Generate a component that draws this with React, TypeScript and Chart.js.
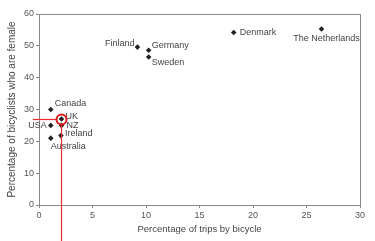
import React, { useEffect, useRef } from "react";
import { Chart, registerables } from "chart.js";

Chart.register(...registerables);

const countries = ["Canada", "UK", "USA", "NZ", "Ireland", "Australia", "Finland", "Germany", "Sweden", "Denmark", "The Netherlands"];
const tripsByBicycle = [1.1, 2.1, 1.1, 2.1, 2.05, 1.1, 9.2, 10.25, 10.25, 18.2, 26.4];
const femaleShare = [30, 27, 25, 25, 21.8, 21, 49.6, 48.6, 46.5, 54.2, 55.3];
const xTicks = [0, 5, 10, 15, 20, 25, 30];
const yTicks = [0, 10, 20, 30, 40, 50, 60];
const highlighted = "UK";

// label placement (style only): dx, dy, textAlign
const labelPlacement: [number, number, CanvasTextAlign][] = [
  [4, -6, "left"],
  [4, -3, "left"],
  [-4, 0, "right"],
  [5, 0, "left"],
  [4, -2, "left"],
  [0, 8, "left"],
  [-3, -4, "right"],
  [3, -5, "left"],
  [3, 6, "left"],
  [6, 0, "left"],
  [5, 10, "center"],
];

const FONT = "'Liberation Sans', Arial, sans-serif";

export default function App() {
  const ref = useRef<HTMLCanvasElement>(null);
  useEffect(() => {
    const canvas = ref.current!;
    const overlay = {
      id: "overlay",
      afterDatasetsDraw(chart: any) {
        const ctx = chart.ctx;
        const xs = chart.scales.x;
        const ys = chart.scales.y;
        const a = chart.chartArea;
        ctx.save();
        // frame
        ctx.strokeStyle = "#888";
        ctx.lineWidth = 1;
        ctx.strokeRect(a.left + 0.5, a.top + 0.5, a.right - a.left, a.bottom - a.top);
        // labels
        ctx.fillStyle = "#444";
        ctx.font = `9px ${FONT}`;
        ctx.textBaseline = "middle";
        countries.forEach((c, i) => {
          const px = xs.getPixelForValue(tripsByBicycle[i]);
          const py = ys.getPixelForValue(femaleShare[i]);
          const [dx, dy, al] = labelPlacement[i];
          ctx.textAlign = al;
          ctx.fillText(c, px + dx, py + dy);
        });
        // highlight
        const hi = countries.indexOf(highlighted);
        const hx = Math.round(xs.getPixelForValue(tripsByBicycle[hi])) + 0.5;
        const hy = Math.round(ys.getPixelForValue(femaleShare[hi])) + 0.5;
        ctx.strokeStyle = "#ee2a2a";
        ctx.lineWidth = 1.2;
        ctx.beginPath();
        ctx.moveTo(33, hy);
        ctx.lineTo(hx - 5, hy);
        ctx.stroke();
        ctx.beginPath();
        ctx.moveTo(hx, hy + 5);
        ctx.lineTo(hx, chart.height);
        ctx.stroke();
        ctx.strokeStyle = "#e01818";
        ctx.lineWidth = 2;
        ctx.beginPath();
        ctx.arc(hx, hy, 5, 0, Math.PI * 2);
        ctx.stroke();
        ctx.restore();
      },
    };
    const chart = new Chart(canvas, {
      type: "scatter",
      data: {
        datasets: [
          {
            data: tripsByBicycle.map((x, i) => ({ x, y: femaleShare[i] })),
            pointStyle: "rectRot",
            pointRadius: 2.8,
            backgroundColor: "#222",
            borderColor: "#222",
            borderWidth: 0,
          },
        ],
      },
      options: {
        animation: false,
        responsive: false,
        events: [],
        layout: { padding: { top: 14, right: 15, left: 6, bottom: 6 } },
        plugins: { legend: { display: false }, tooltip: { enabled: false } },
        scales: {
          x: {
            type: "linear",
            min: 0,
            max: 30,
            afterBuildTicks: (s: any) => { s.ticks = xTicks.map((v) => ({ value: v })); },
            afterFit: (s: any) => { s.height = 30; },
            grid: { drawOnChartArea: false, tickLength: 3, color: "#888" },
            border: { color: "#888" },
            ticks: { color: "#555", font: { size: 9, family: FONT }, padding: 2, maxRotation: 0 },
            title: { display: true, text: "Percentage of trips by bicycle", color: "#444", font: { size: 9.5, family: FONT }, padding: { top: 0, bottom: 0 } },
          },
          y: {
            type: "linear",
            min: 0,
            max: 60,
            afterBuildTicks: (s: any) => { s.ticks = yTicks.map((v) => ({ value: v })); },
            afterFit: (s: any) => { s.width = 33; },
            grid: { drawOnChartArea: false, tickLength: 3, color: "#888" },
            border: { color: "#888" },
            ticks: { color: "#555", font: { size: 9, family: FONT }, padding: 2 },
            title: { display: true, text: "Percentage of bicyclists who are female", color: "#444", font: { size: 10, family: FONT }, padding: { top: 0, bottom: 4 } },
          },
        },
      },
      plugins: [overlay],
    });
    return () => chart.destroy();
  }, []);
  return (
    <div style={{ position: "fixed", left: 0, top: 0, width: 375, height: 241, background: "#fff" }}>
      <canvas ref={ref} width={375} height={241} style={{ display: "block" }} />
    </div>
  );
}
